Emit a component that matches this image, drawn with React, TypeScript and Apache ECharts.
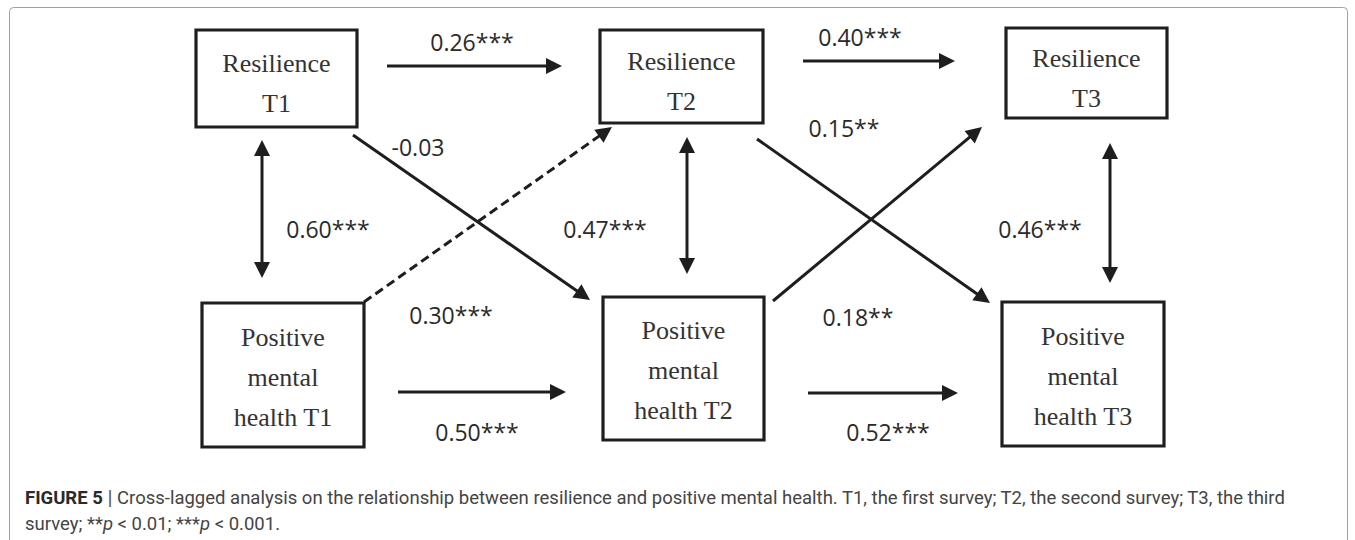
import React, { useEffect, useRef } from "react";
import * as echarts from "echarts";

// Diagram coordinates (value axes span the figure, 0..1355 by 0..540)
const nodeLabels = [
  "Resilience\nT1",
  "Resilience\nT2",
  "Resilience\nT3",
  "Positive\nmental\nhealth T1",
  "Positive\nmental\nhealth T2",
  "Positive\nmental\nhealth T3",
];
// [left, top, right, bottom]
const nodeBoxes = [
  [196, 30, 357, 127],
  [600, 30, 763, 123],
  [1006, 28, 1167, 118],
  [202, 303, 364, 447],
  [603, 297, 764, 440],
  [1002, 302, 1164, 446],
];

// paths: [x1, y1, x2, y2] (x2,y2 = arrow tip)
const pathSegments = [
  [387, 66, 562, 66],
  [803, 61, 955, 61],
  [398, 392, 566, 392],
  [808, 393, 958, 393],
  [262, 140, 262, 278],
  [687, 137, 687, 274],
  [1110, 143, 1110, 283],
  [353, 135, 590, 300],
  [364, 302, 612, 127],
  [757, 139, 990, 303],
  [773, 301, 982, 127],
];
const pathHeads = ["end", "end", "end", "end", "both", "both", "both", "end", "end", "end", "end"];
const pathDashed = [false, false, false, false, false, false, false, false, true, false, false];

const coefLabels = [
  "0.26***",
  "0.40***",
  "0.50***",
  "0.52***",
  "0.60***",
  "0.47***",
  "0.46***",
  "-0.03",
  "0.30***",
  "0.15**",
  "0.18**",
];
const coefPositions = [
  [472, 42],
  [860, 37],
  [477, 432],
  [888, 432],
  [328, 229],
  [605, 229],
  [1040, 229],
  [418, 147],
  [451, 315],
  [844, 128],
  [858, 317],
];

const captionLine1 =
  "Cross-lagged analysis on the relationship between resilience and positive mental health. T1, the first survey; T2, the second survey; T3, the third";

const INK = "#1e1e1e";
const CAP = 18.5;

export default function App() {
  const ref = useRef<HTMLDivElement>(null);

  useEffect(() => {
    document.body.style.margin = "0";
    const chart = echarts.init(ref.current!, null, { renderer: "svg" });

    const option: any = {
      animation: false,
      backgroundColor: "#ffffff",
      grid: { left: 0, right: 0, top: 0, bottom: 0 },
      xAxis: { type: "value", min: 0, max: 1355, show: false },
      yAxis: { type: "value", min: 0, max: 540, inverse: true, show: false },
      graphic: [
        {
          type: "rect",
          shape: { x: 9.5, y: 7.5, width: 1338, height: 560, r: 4 },
          style: { fill: "none", stroke: "#a0a0a0", lineWidth: 1 },
          silent: true,
        },
        {
          type: "text",
          left: 25,
          top: 485,
          style: {
            text:
              "{b|FIGURE 5} {s||} {n|" +
              captionLine1 +
              "}\n{n|survey; **}{i|p}{n| < 0.01; ***}{i|p}{n| < 0.001.}",
            lineHeight: 26,
            fontFamily: "Roboto",
            fontSize: CAP,
            fill: "#444",
            rich: {
              b: { fontFamily: "Roboto", fontSize: CAP, fontWeight: "bold", fill: "#2a2a2a", lineHeight: 26 },
              s: { fontFamily: "Roboto", fontSize: CAP + 2, fill: "#555", lineHeight: 26 },
              n: { fontFamily: "Roboto", fontSize: CAP, fill: "#444", lineHeight: 26 },
              i: { fontFamily: "Roboto", fontSize: CAP, fontStyle: "italic", fill: "#444", lineHeight: 26 },
            },
          },
        },
      ],
      series: [
        {
          type: "custom",
          coordinateSystem: "cartesian2d",
          clip: false,
          silent: true,
          data: nodeBoxes,
          renderItem: (params: any, api: any) => {
            const i = params.dataIndex;
            const b = nodeBoxes[i];
            const p0 = api.coord([b[0], b[1]]);
            const p1 = api.coord([b[2], b[3]]);
            const cx = (p0[0] + p1[0]) / 2;
            const cy = (p0[1] + p1[1]) / 2;
            const lines = nodeLabels[i].split("\n").length;
            return {
              type: "group",
              children: [
                {
                  type: "rect",
                  shape: { x: p0[0], y: p0[1], width: p1[0] - p0[0], height: p1[1] - p0[1] },
                  style: { fill: "none", stroke: INK, lineWidth: 3.2 },
                },
                {
                  type: "text",
                  style: {
                    text: nodeLabels[i],
                    x: cx,
                    y: cy + (lines === 2 ? 5 : 2),
                    align: "center",
                    verticalAlign: "middle",
                    fontFamily: "Liberation Serif",
                    fontSize: 26,
                    lineHeight: 40,
                    fill: "#333333",
                  },
                },
              ],
            };
          },
        },
        {
          type: "custom",
          coordinateSystem: "cartesian2d",
          clip: false,
          silent: true,
          data: pathSegments,
          renderItem: (params: any, api: any) => {
            const i = params.dataIndex;
            const s = pathSegments[i];
            const p1 = api.coord([s[0], s[1]]);
            const p2 = api.coord([s[2], s[3]]);
            const dx = p2[0] - p1[0];
            const dy = p2[1] - p1[1];
            const len = Math.hypot(dx, dy);
            const ux = dx / len;
            const uy = dy / len;
            const hl = 16;
            const hw = 8;
            const both = pathHeads[i] === "both";
            const a = both ? [p1[0] + ux * (hl - 2), p1[1] + uy * (hl - 2)] : p1;
            const e = [p2[0] - ux * (hl - 2), p2[1] - uy * (hl - 2)];
            const head = (tip: number[], dirx: number, diry: number) => {
              const bx = tip[0] - dirx * hl;
              const by = tip[1] - diry * hl;
              return {
                type: "polygon",
                shape: {
                  points: [
                    [tip[0], tip[1]],
                    [bx - diry * hw, by + dirx * hw],
                    [bx + diry * hw, by - dirx * hw],
                  ],
                },
                style: { fill: INK, stroke: "none" },
              };
            };
            const children: any[] = [
              {
                type: "line",
                shape: { x1: a[0], y1: a[1], x2: e[0], y2: e[1] },
                style: {
                  stroke: INK,
                  lineWidth: 3,
                  lineDash: pathDashed[i] ? [9, 5] : null,
                },
              },
              head(p2, ux, uy),
            ];
            if (both) children.push(head(p1, -ux, -uy));
            return { type: "group", children };
          },
        },
        {
          type: "custom",
          coordinateSystem: "cartesian2d",
          clip: false,
          silent: true,
          data: coefPositions,
          renderItem: (params: any, api: any) => {
            const i = params.dataIndex;
            const p = api.coord(coefPositions[i]);
            return {
              type: "text",
              style: {
                text: coefLabels[i],
                x: p[0],
                y: p[1],
                align: "center",
                verticalAlign: "middle",
                fontFamily: "Open Sans",
                fontSize: 23,
                fill: "#2a2a2a",
              },
            };
          },
        },
      ],
    };

    chart.setOption(option);
    return () => chart.dispose();
  }, []);

  return <div ref={ref} style={{ width: 1355, height: 540 }} />;
}
